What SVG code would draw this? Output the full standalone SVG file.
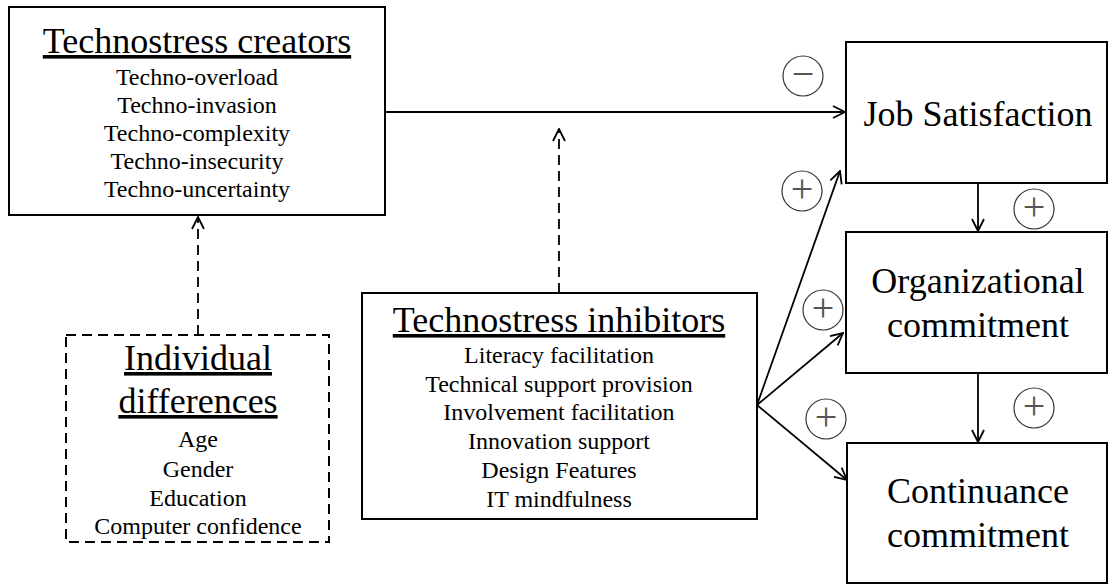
<svg xmlns="http://www.w3.org/2000/svg" width="1109" height="585" viewBox="0 0 1109 585">
  <style>
    .box { fill: #fff; stroke: #000; stroke-width: 2; }
    .dashbox { fill: #fff; stroke: #000; stroke-width: 2; stroke-dasharray: 10 6; }
    .title { font-family: "Liberation Serif", "Times New Roman", serif; font-size: 36px; fill: #000; text-anchor: middle; text-decoration: underline; }
    .big { font-family: "Liberation Serif", "Times New Roman", serif; font-size: 36px; fill: #000; text-anchor: middle; }
    .item { font-family: "Liberation Serif", "Times New Roman", serif; font-size: 24px; fill: #000; text-anchor: middle; }
    .link { stroke: #000; stroke-width: 1.8; fill: none; marker-end: url(#arrow); }
    .dash { stroke-dasharray: 10 6; }
    .sign circle { fill: #fff; stroke: #333; stroke-width: 1.2; }
    .sign text { font-family: "Liberation Serif", "Times New Roman", serif; font-size: 40px; fill: #555; text-anchor: middle; }
  </style>
  <defs>
    <marker id="arrow" viewBox="0 0 14 14" refX="13" refY="7" markerWidth="14" markerHeight="14" markerUnits="userSpaceOnUse" orient="auto">
      <path d="M1,1 L13,7 L1,13" fill="none" stroke="#000" stroke-width="1.8"/>
    </marker>
  </defs>

  <!-- connectors -->
  <g id="connectors">
    <line class="link" x1="385" y1="112" x2="845" y2="112"/>
    <line class="link dash" x1="559" y1="293" x2="559" y2="129"/>
    <line class="link dash" x1="198" y1="335" x2="198" y2="217"/>
    <line class="link" x1="978" y1="183" x2="978" y2="231"/>
    <line class="link" x1="978" y1="373" x2="978" y2="442"/>
    <line class="link" x1="757" y1="405" x2="840" y2="171"/>
    <line class="link" x1="757" y1="405" x2="843" y2="333"/>
    <line class="link" x1="757" y1="405" x2="847" y2="480"/>
  </g>

  <!-- technostress creators -->
  <g id="creators">
    <rect class="box" x="9" y="7" width="376" height="208"/>
    <text class="title" x="197" y="53">Technostress creators</text>
    <text class="item" x="197" y="85">Techno-overload</text>
    <text class="item" x="197" y="113">Techno-invasion</text>
    <text class="item" x="197" y="141">Techno-complexity</text>
    <text class="item" x="197" y="169">Techno-insecurity</text>
    <text class="item" x="197" y="197">Techno-uncertainty</text>
  </g>

  <!-- individual differences -->
  <g id="individual">
    <rect class="dashbox" x="66" y="335" width="263" height="207"/>
    <text class="title" x="198" y="370">Individual</text>
    <text class="title" x="198" y="413">differences</text>
    <text class="item" x="198" y="447">Age</text>
    <text class="item" x="198" y="477">Gender</text>
    <text class="item" x="198" y="506">Education</text>
    <text class="item" x="198" y="534">Computer confidence</text>
  </g>

  <!-- technostress inhibitors -->
  <g id="inhibitors">
    <rect class="box" x="362" y="293" width="395" height="226"/>
    <text class="title" x="559" y="332">Technostress inhibitors</text>
    <text class="item" x="559" y="363">Literacy  facilitation</text>
    <text class="item" x="559" y="392">Technical  support provision</text>
    <text class="item" x="559" y="420">Involvement facilitation</text>
    <text class="item" x="559" y="449">Innovation support</text>
    <text class="item" x="559" y="478">Design Features</text>
    <text class="item" x="559" y="507">IT mindfulness</text>
  </g>

  <!-- outcomes -->
  <g id="job-satisfaction">
    <rect class="box" x="846" y="42" width="261" height="141"/>
    <text class="big" x="978" y="126">Job Satisfaction</text>
  </g>
  <g id="organizational-commitment">
    <rect class="box" x="846" y="232" width="261" height="141"/>
    <text class="big" x="978" y="293">Organizational</text>
    <text class="big" x="978" y="337">commitment</text>
  </g>
  <g id="continuance-commitment">
    <rect class="box" x="847" y="443" width="260" height="140"/>
    <text class="big" x="978" y="503">Continuance</text>
    <text class="big" x="978" y="547">commitment</text>
  </g>

  <!-- effect signs -->
  <g id="signs">
    <g class="sign"><circle cx="803" cy="76" r="20"/><text x="803" y="87">−</text></g>
    <g class="sign"><circle cx="802" cy="191" r="20"/><text x="802" y="202">+</text></g>
    <g class="sign"><circle cx="1034" cy="209" r="20"/><text x="1034" y="220">+</text></g>
    <g class="sign"><circle cx="823" cy="310" r="20"/><text x="823" y="321">+</text></g>
    <g class="sign"><circle cx="826" cy="419" r="20"/><text x="826" y="430">+</text></g>
    <g class="sign"><circle cx="1034" cy="408" r="20"/><text x="1034" y="419">+</text></g>
  </g>
</svg>
